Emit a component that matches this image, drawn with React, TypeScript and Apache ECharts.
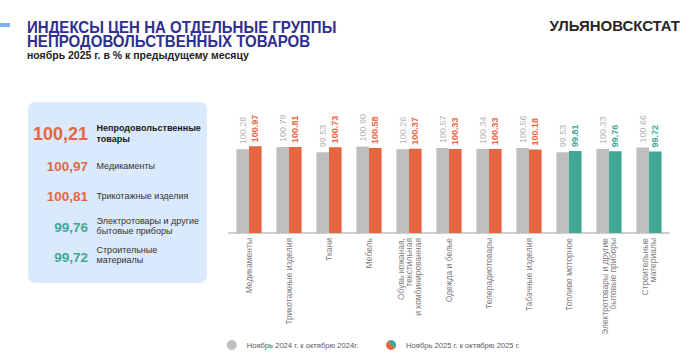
import React, { useEffect, useRef } from "react";
import * as echarts from "echarts";

const categories = [
  "Медикаменты",
  "Трикотажные изделия",
  "Ткани",
  "Мебель",
  "Обувь кожаная,\nтекстильная\nи комбинированная",
  "Одежда и белье",
  "Телерадиотовары",
  "Табачные изделия",
  "Топливо моторное",
  "Электротовары и другие\nбытовые приборы",
  "Строительные\nматериалы",
];
const prevValues = [100.28, 100.79, 99.53, 100.9, 100.26, 100.57, 100.34, 100.56, 99.53, 100.33, 100.66];
const currValues = [100.97, 100.81, 100.73, 100.58, 100.37, 100.33, 100.33, 100.18, 99.81, 99.76, 99.72];
const seriesNames = ["Ноябрь 2024 г. к октябрю 2024г.", "Ноябрь 2025 г. к октябрю 2025 г."];

const panelValues = ["100,21", "100,97", "100,81", "99,76", "99,72"];
const panelLabels = [
  "Непродовольственные\nтовары",
  "Медикаменты",
  "Трикотажные изделия",
  "Электротовары и другие\nбытовые приборы",
  "Строительные\nматериалы",
];

const titleLines = ["ИНДЕКСЫ ЦЕН НА ОТДЕЛЬНЫЕ ГРУППЫ", "НЕПРОДОВОЛЬСТВЕННЫХ ТОВАРОВ"];
const subtitle = "ноябрь 2025 г. в % к предыдущему месяцу";
const brand = "УЛЬЯНОВСКСТАТ";

const ORANGE = "#e5663f";
const TEAL = "#40a996";
const GRAY = "#bfbfbf";
const FONT = "'Liberation Sans', Arial, sans-serif";

export default function App() {
  const ref = useRef<HTMLDivElement>(null);
  useEffect(() => {
    if (!ref.current) return;
    const chart = echarts.init(ref.current, undefined, { renderer: "svg" });

    const colorFor = (v: number) => (v >= 100 ? ORANGE : TEAL);

    const panelY = [133.5, 166.8, 196.8, 227, 257];
    const panelNumSize = [18, 13.5, 13.5, 13.5, 13.5];
    const panelLabelY = [133, 165.5, 195.5, 226, 255];
    const panelLabelBold = [true, false, false, false, false];

    const graphics: any[] = [
      { type: "rect", shape: { x: 0, y: 23, width: 10, height: 4 }, style: { fill: "#7fb2ee" } },
      {
        type: "text",
        x: 27,
        y: 34.5,
        scaleX: 0.94,
        style: {
          x: 0,
          y: 0,
          text: titleLines.join("\n"),
          font: `bold 16px ${FONT}`,
          lineHeight: 14.5,
          fill: "#2e2f8f",
          textVerticalAlign: "middle",
        },
      },
      {
        type: "text",
        style: { x: 27, y: 55, text: subtitle, font: `bold 10.5px ${FONT}`, fill: "#222", textVerticalAlign: "middle" },
      },
      {
        type: "text",
        x: 680,
        y: 26,
        scaleX: 1.07,
        style: { x: 0, y: 0, text: brand, font: `bold 14px ${FONT}`, fill: "#262626", textAlign: "right", textVerticalAlign: "middle" },
      },
      {
        type: "rect",
        shape: { x: 28, y: 102, width: 179, height: 181, r: 7 },
        style: { fill: "#dae9fb" },
      },
    ];
    panelValues.forEach((v, i) => {
      const num = parseFloat(v.replace(",", "."));
      graphics.push({
        type: "text",
        style: {
          x: 88,
          y: panelY[i],
          text: v,
          font: `bold ${panelNumSize[i]}px ${FONT}`,
          fill: colorFor(num),
          textAlign: "right",
          textVerticalAlign: "middle",
        },
      });
      graphics.push({
        type: "text",
        style: {
          x: 96.5,
          y: panelLabelY[i],
          text: panelLabels[i],
          font: `${panelLabelBold[i] ? "bold " : ""}9px ${FONT}`,
          lineHeight: panelLabelBold[i] ? 11 : 9.5,
          fill: panelLabelBold[i] ? "#1a1a1a" : "#333",
          textVerticalAlign: "middle",
        },
      });
    });

    const option: any = {
      animation: false,
      textStyle: { fontFamily: FONT },
      grid: { left: 229, right: 31, top: 109, bottom: 130 },
      legend: {
        left: 226.7,
        top: 340,
        padding: 0,
        itemWidth: 10,
        itemHeight: 10,
        itemGap: 28,
        textStyle: { fontSize: 7.6, color: "#595959", fontFamily: FONT, padding: [0, 0, 0, 5] },
        data: [
          { name: seriesNames[0], icon: "circle", itemStyle: { color: GRAY } },
          {
            name: seriesNames[1],
            icon: "circle",
            itemStyle: {
              color: new echarts.graphic.LinearGradient(0, 1, 1, 0, [
                { offset: 0, color: ORANGE },
                { offset: 0.5, color: ORANGE },
                { offset: 0.5, color: TEAL },
                { offset: 1, color: TEAL },
              ]),
            },
          },
        ],
      },
      xAxis: {
        type: "category",
        data: categories,
        axisLine: { lineStyle: { color: "#cfcfcf", width: 2 } },
        axisTick: { show: false },
        axisLabel: {
          interval: 0,
          rotate: 90,
          fontSize: 8.5,
          lineHeight: 8.5,
          color: "#7f7f7f",
          margin: 5,
          fontFamily: FONT,
        },
      },
      yAxis: { type: "value", min: 80, max: 110, show: false, splitLine: { show: false } },
      series: [
        {
          name: seriesNames[0],
          type: "bar",
          barWidth: 12.6,
          barGap: "0%",
          itemStyle: { color: GRAY },
          data: prevValues,
          label: {
            show: true,
            position: "top",
            rotate: 90,
            align: "left",
            verticalAlign: "middle",
            distance: 5,
            fontSize: 9,
            color: "#b3b3b3",
            fontFamily: FONT,
            formatter: (p: any) => p.value.toFixed(2),
          },
        },
        {
          name: seriesNames[1],
          type: "bar",
          barWidth: 12.6,
          barGap: "0%",
          data: currValues.map((v) => ({
            value: v,
            itemStyle: { color: colorFor(v) },
            label: { color: colorFor(v) },
          })),
          label: {
            show: true,
            position: "top",
            rotate: 90,
            align: "left",
            verticalAlign: "middle",
            distance: 4,
            fontSize: 9,
            fontWeight: "bold",
            fontFamily: FONT,
            formatter: (p: any) => p.value.toFixed(2),
          },
        },
      ],
      graphic: graphics,
    };
    chart.setOption(option);
    return () => chart.dispose();
  }, []);
  return (
    <div
      ref={ref}
      style={{ position: "absolute", left: 0, top: 0, width: 700, height: 363, background: "#fff" }}
    />
  );
}
